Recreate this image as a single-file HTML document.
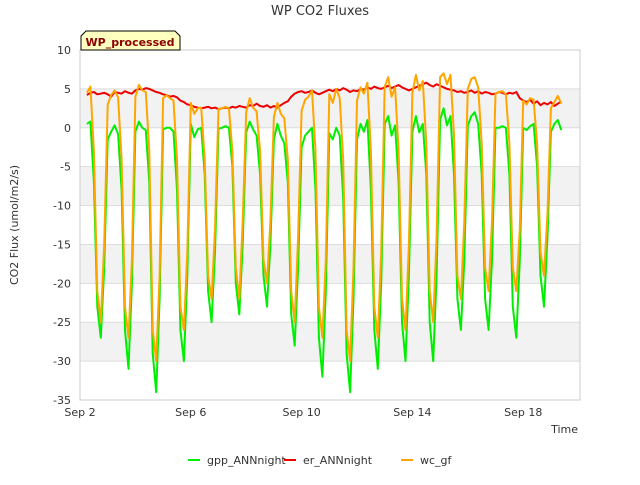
<!DOCTYPE html>
<html><head><meta charset="utf-8">
<style>
body{margin:0;background:#fff;font-family:"Liberation Sans",sans-serif;}
svg text{font-family:"DejaVu Sans","Liberation Sans",sans-serif;}
</style></head>
<body>
<svg id="chart" width="640" height="480" xmlns="http://www.w3.org/2000/svg">
<rect width="640" height="480" fill="#fff"/>
<g id="bands"></g>
<g id="grid"></g>
<g id="series"></g>
<g id="axes"></g>
<text x="320" y="15" text-anchor="middle" font-size="13" fill="#333">WP CO2 Fluxes</text>
<g>
<path d="M81,50 L81,36 L86,31 L175,31 L180,36 L180,50 Z" fill="#ffffc0" stroke="#000" stroke-width="1"/>
<text x="130" y="46" text-anchor="middle" font-size="11" font-weight="bold" fill="#8b0000">WP_processed</text>
</g>
<text transform="translate(18,225) rotate(-90)" text-anchor="middle" font-size="11" fill="#333">CO2 Flux (umol/m2/s)</text>
<text x="578" y="433" text-anchor="end" font-size="11" fill="#333">Time</text>
<g>
<g><line x1="188" y1="460" x2="200" y2="460" stroke="#00ee00" stroke-width="2"/><text x="207" y="464" font-size="11" fill="#333">gpp_ANNnight</text></g>
<g><line x1="284" y1="460" x2="296" y2="460" stroke="#ee0000" stroke-width="2"/><text x="303" y="464" font-size="11" fill="#333">er_ANNnight</text></g>
<g><line x1="401" y1="460" x2="413" y2="460" stroke="#ffa500" stroke-width="2"/><text x="420" y="464" font-size="11" fill="#333">wc_gf</text></g>
</g>
</svg>
<script>
const yTicks=[10,5,0,-5,-10,-15,-20,-25,-30,-35];
const xTickDays=[2,6,10,14,18];
const xTickLabels=["Sep 2","Sep 6","Sep 10","Sep 14","Sep 18"];
const startDay=2.25;
const stepDay=0.125;
const gpp=[0.5,0.8,-7,-23,-27,-18,
-1.5,-0.5,0.3,-0.8,-8,-26,-31,-20,
-0.5,0.8,0,-0.3,-7,-29,-34,-22,
-0.2,0,0,-0.5,-8,-26,-30,-19,
0.5,-1.2,-0.2,0,-6,-21,-25,-16,
-0.1,0,0.2,0,-5,-20,-24,-15,
-0.6,0.8,-0.2,-1,-6,-19,-23,-15,
-1.5,0.5,-1,-2,-7,-24,-28,-18,
-2.5,-1,-0.5,0,-8,-27,-32,-21,
-0.7,-1.5,0,-1,-9,-29,-34,-22,
-1.5,0.5,-0.5,1,-8,-26,-31,-20,
0.5,1.5,-1,0.3,-7,-25,-30,-19,
-0.5,1.5,-0.6,0.5,-6,-25,-30,-19,
1,2.5,0.3,1.5,-6,-22,-26,-17,
0.3,1.5,2,0.5,-6,-22,-26,-17,
0,0,0.2,0,-6,-23,-27,-17,
0,-0.3,0.2,0.5,-5,-19,-23,-14,
-0.5,0.5,1,-0.3];
const er=[4.2,4.5,4.6,4.3,4.4,4.5,
4.3,4.0,4.6,4.5,4.4,4.7,4.5,4.4,
4.8,5.0,4.9,5.1,5.0,4.8,4.6,4.5,
4.3,4.2,4.0,4.1,3.9,3.5,3.3,3.0,
2.9,2.7,2.6,2.5,2.6,2.7,2.5,2.6,
2.4,2.5,2.6,2.5,2.7,2.6,2.8,2.7,
2.6,2.9,2.8,3.1,2.8,2.7,2.9,2.6,
2.8,2.6,2.9,3.2,3.4,4.0,4.4,4.6,
4.7,4.5,4.6,4.8,4.5,4.3,4.5,4.7,
4.9,4.7,5.0,4.8,5.1,4.9,4.6,4.8,
4.7,5.0,4.9,5.2,5.0,5.3,5.1,5.0,
5.2,5.4,5.1,5.3,5.5,5.2,5.0,4.8,
5.0,5.2,5.4,5.6,5.8,5.5,5.3,5.6,
5.4,5.2,5.0,4.9,4.8,4.6,4.7,4.5,
4.6,4.8,4.5,4.7,4.4,4.6,4.5,4.3,
4.4,4.6,4.5,4.3,4.5,4.4,4.6,3.8,
3.5,3.3,3.6,3.1,3.4,2.9,3.2,3.0,
3.3,2.8,3.1,3.4];
const wc=[4.5,5.3,-3,-21,-25,-15,
3.0,4.2,4.8,3.9,-4,-23,-27,-17,
4.0,5.5,4.8,4.6,-3,-26,-30,-19,
3.8,4.2,3.8,3.5,-4,-23,-26,-16,
3.2,1.8,2.5,2.6,-4,-19,-22,-13,
2.4,2.5,2.7,2.5,-3,-18,-22,-12,
2.0,3.8,2.6,2.1,-3,-17,-20,-12,
1.4,3.2,1.8,1.2,-4,-21,-25,-14,
2.2,3.6,4.0,4.8,-3,-23,-27,-17,
4.3,3.2,5.0,3.8,-4,-26,-30,-18,
3.5,5.2,4.4,5.8,-3,-23,-27,-16,
5.3,6.5,4.0,5.2,-3,-22,-26,-15,
4.5,6.8,4.8,6.0,-2,-21,-25,-14,
6.5,7.0,5.6,6.8,-1,-19,-22,-12,
5.0,6.3,6.5,5.2,-2,-18,-21,-12,
4.4,4.6,4.7,4.3,-2,-18,-21,-13,
3.5,3.0,3.8,3.6,-2,-16,-19,-11,
2.5,3.3,4.1,3.1];
const X0=80,X1=580,Y0=50,Y1=400,DMIN=2,DMAX=20.05,VMAX=10,VMIN=-35;
function xs(d){return X0+(d-DMIN)/(DMAX-DMIN)*(X1-X0);}
function ys(v){return Y0+(VMAX-v)/(VMAX-VMIN)*(Y1-Y0);}
const NS="http://www.w3.org/2000/svg";
function mk(tag,attrs,parent){const e=document.createElementNS(NS,tag);for(const k in attrs)e.setAttribute(k,attrs[k]);parent.appendChild(e);return e;}
const bands=document.getElementById('bands'),grid=document.getElementById('grid'),axes=document.getElementById('axes'),series=document.getElementById('series');
for(let i=0;i<yTicks.length-1;i++){
  if(i%2===1){
    const r=mk('rect',{x:X0,y:ys(yTicks[i]),width:X1-X0,height:ys(yTicks[i+1])-ys(yTicks[i]),fill:'#f2f2f2'},bands);
    
    
  }
}
yTicks.forEach(v=>{
  const l=mk('line',{x1:X0,x2:X1,y1:ys(v),y2:ys(v),stroke:'#dddddd','stroke-width':1},grid);
  
  
  const t=mk('text',{x:X0-9,y:ys(v)+4,'text-anchor':'end','font-size':'11',fill:'#333'},axes);
  t.textContent=v;
  
  
});
const fr=mk('rect',{x:X0,y:Y0,width:X1-X0,height:Y1-Y0,fill:'none',stroke:'#cccccc'},axes);


xTickDays.forEach((d,i)=>{
  const t=mk('text',{x:xs(d),y:Y1+16,'text-anchor':'middle','font-size':'11',fill:'#333'},axes);
  t.textContent=xTickLabels[i];
  
  
});
function drawLine(vals,color,name){
  const pts=vals.map((v,i)=>xs(startDay+i*stepDay).toFixed(1)+','+ys(v).toFixed(1)).join(' ');
  const p=mk('polyline',{points:pts,fill:'none',stroke:color,'stroke-width':2,'stroke-linejoin':'round'},series);
  
  
}
drawLine(gpp,'#00ee00','gpp-annnight-line');
drawLine(er,'#ee0000','er-annnight-line');
drawLine(wc,'#ffa500','wc-gf-line');
</script>
</body></html>
